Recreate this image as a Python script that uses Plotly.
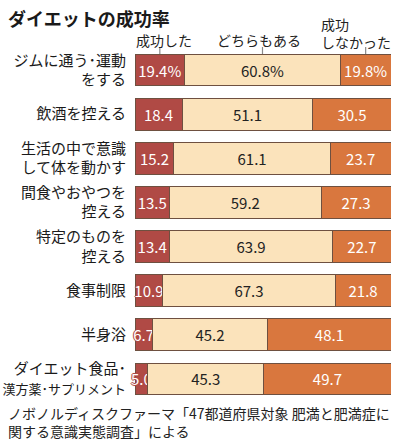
import plotly.graph_objects as go

categories = [
    "ジムに通う･運動<br>をする",
    "飲酒を控える",
    "生活の中で意識<br>して体を動かす",
    "間食やおやつを<br>控える",
    "特定のものを<br>控える",
    "食事制限",
    "半身浴",
    "ダイエット食品･<br><span style='font-size:13px'>漢方薬･サプリメント</span>",
]
success = [19.4, 18.4, 15.2, 13.5, 13.4, 10.9, 6.7, 5.0]
both = [60.8, 51.1, 61.1, 59.2, 63.9, 67.3, 45.2, 45.3]
failed = [19.8, 30.5, 23.7, 27.3, 22.7, 21.8, 48.1, 49.7]
header_success = "成功した"
header_both = "どちらもある"
header_failed = "成功<br>しなかった"
title_text = "ダイエットの成功率"
source_text = "ノボノルディスクファーマ「47都道府県対象 肥満と肥満症に<br>関する意識実態調査」による"

FONT = "Noto Sans CJK JP"
RED = "#b04a45"
BEIGE = "#fbe3bb"
ORANGE = "#d9773e"
EDGE = "#6e5040"
TXT = "#222222"

W, H = 396, 441
ML, MR, MT, MB = 135, 5, 48, 40
PW, PH = W - ML - MR, H - MT - MB


def px_x(p):
    return (p - ML) / PW


def px_y(p):
    return 1 - (p - MT) / PH


def labels(vals):
    return [f"{v:.1f}%" if i == 0 else f"{v:.1f}" for i, v in enumerate(vals)]


fig = go.Figure()
for vals, color, tcolor, shadow in [
    (success, RED, "white",
     f"1px 0 0 {RED}, -1px 0 0 {RED}, 0 1px 0 {RED}, 0 -1px 0 {RED}, 0 0 2px {RED}"),
    (both, BEIGE, TXT, "none"),
    (failed, ORANGE, "white", "none"),
]:
    fig.add_trace(go.Bar(
        y=categories, x=vals, orientation="h",
        marker=dict(color=color, line=dict(color=EDGE, width=1)),
        text=labels(vals), textposition="inside", insidetextanchor="middle",
        textangle=0, constraintext="none", cliponaxis=False,
        textfont=dict(family=FONT, size=15, color=tcolor, shadow=shadow),
        width=0.72, hoverinfo="skip", showlegend=False,
    ))

# pointer ticks over first row's segment centres
centers = [success[0] / 2, success[0] + both[0] / 2, success[0] + both[0] + failed[0] / 2]
for c in centers:
    fig.add_shape(type="line", xref="x", yref="paper", x0=c, x1=c,
                  y0=px_y(47), y1=px_y(55),
                  line=dict(color="#8a8a8a", width=1.2), layer="below")

hfont = dict(family=FONT, size=14, color=TXT)
fig.add_annotation(x=px_x(164), y=px_y(40), xref="paper", yref="paper",
                   text=header_success, showarrow=False, xanchor="center",
                   yanchor="middle", font=hfont)
fig.add_annotation(x=px_x(259), y=px_y(40), xref="paper", yref="paper",
                   text=header_both, showarrow=False, xanchor="center",
                   yanchor="middle", font=hfont)
fig.add_annotation(x=px_x(320), y=px_y(33), xref="paper", yref="paper",
                   text=header_failed, showarrow=False, xanchor="left", align="left",
                   yanchor="middle", font=hfont, borderpad=0)
fig.add_annotation(x=px_x(6), y=px_y(18), xref="paper", yref="paper",
                   text=f"<b>{title_text}</b>", showarrow=False,
                   xanchor="left", yanchor="middle",
                   font=dict(family=FONT, size=18, color="#1a1a1a"))
fig.add_annotation(x=px_x(6), y=px_y(401), xref="paper", yref="paper",
                   text=source_text, showarrow=False, align="left",
                   xanchor="left", yanchor="top",
                   font=dict(family=FONT, size=14, color=TXT))

fig.update_layout(
    barmode="stack",
    width=W, height=H,
    margin=dict(l=ML, r=MR, t=MT, b=MB, autoexpand=False),
    paper_bgcolor="white", plot_bgcolor="white",
    font=dict(family=FONT, color=TXT),
    xaxis=dict(range=[0, 100], visible=False, fixedrange=True),
    yaxis=dict(autorange="reversed", showgrid=False, zeroline=False, showline=False,
               ticks="", ticklabelstandoff=8, fixedrange=True, automargin=False,
               tickfont=dict(family=FONT, size=15, color="#1a1a1a")),
)
fig.write_html("out.html", config={"displayModeBar": False},
               post_script="document.body.style.margin='0';document.body.style.padding='0';")
